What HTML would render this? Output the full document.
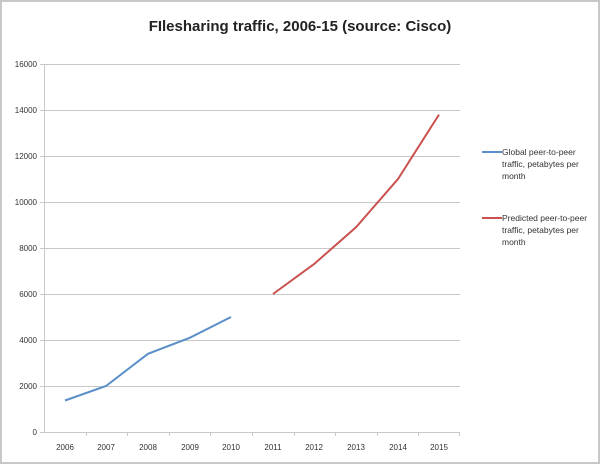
<!DOCTYPE html>
<html><head><style>body{margin:0;background:#fff}</style></head><body>
<svg width="600" height="464" xmlns="http://www.w3.org/2000/svg" font-family="Liberation Sans, sans-serif">
<rect x="1" y="1" width="598" height="462" fill="#fff" stroke="#c8c8c8" stroke-width="2"/>
<text x="300" y="31" text-anchor="middle" font-size="15" font-weight="bold" fill="#222">FIlesharing traffic, 2006-15 (source: Cisco)</text>
<g stroke="#c8c8c8" stroke-width="1">
<line x1="40" y1="64.5" x2="460" y2="64.5"/><line x1="40" y1="110.5" x2="460" y2="110.5"/>
<line x1="40" y1="156.5" x2="460" y2="156.5"/><line x1="40" y1="202.5" x2="460" y2="202.5"/>
<line x1="40" y1="248.5" x2="460" y2="248.5"/><line x1="40" y1="294.5" x2="460" y2="294.5"/>
<line x1="40" y1="340.5" x2="460" y2="340.5"/><line x1="40" y1="386.5" x2="460" y2="386.5"/>
<line x1="40" y1="432.5" x2="460" y2="432.5"/><line x1="44.5" y1="64" x2="44.5" y2="432"/>
<line x1="86.5" y1="432" x2="86.5" y2="436"/><line x1="127.5" y1="432" x2="127.5" y2="436"/>
<line x1="169.5" y1="432" x2="169.5" y2="436"/><line x1="210.5" y1="432" x2="210.5" y2="436"/>
<line x1="252.5" y1="432" x2="252.5" y2="436"/><line x1="294.5" y1="432" x2="294.5" y2="436"/>
<line x1="335.5" y1="432" x2="335.5" y2="436"/><line x1="377.5" y1="432" x2="377.5" y2="436"/>
<line x1="418.5" y1="432" x2="418.5" y2="436"/><line x1="459.5" y1="432" x2="459.5" y2="436"/>
</g>
<g font-size="8" fill="#333" text-anchor="end">
<text x="37" y="67">16000</text><text x="37" y="113">14000</text><text x="37" y="159">12000</text>
<text x="37" y="205">10000</text><text x="37" y="251">8000</text><text x="37" y="297">6000</text>
<text x="37" y="343">4000</text><text x="37" y="389">2000</text><text x="37" y="435">0</text>
</g>
<g font-size="8" fill="#333" text-anchor="middle">
<text x="65" y="450">2006</text><text x="106" y="450">2007</text><text x="148" y="450">2008</text>
<text x="190" y="450">2009</text><text x="231" y="450">2010</text><text x="273" y="450">2011</text>
<text x="314" y="450">2012</text><text x="356" y="450">2013</text><text x="398" y="450">2014</text>
<text x="439" y="450">2015</text>
</g>
<polyline fill="none" stroke="#5b8fc9" stroke-width="2" points="65,400.5 106,386 148,353.8 190,337.7 231,317"/>
<polyline fill="none" stroke="#c9514f" stroke-width="2" points="273,294 314,264.1 356,227.3 398,179 439,114.6"/>
<line x1="482" y1="152" x2="502" y2="152" stroke="#5b8fc9" stroke-width="2"/>
<line x1="482" y1="218" x2="502" y2="218" stroke="#c9514f" stroke-width="2"/>
<g font-size="8.5" fill="#333">
<text x="502" y="155">Global peer-to-peer</text><text x="502" y="167">traffic, petabytes per</text><text x="502" y="179">month</text>
<text x="502" y="221">Predicted peer-to-peer</text><text x="502" y="233">traffic, petabytes per</text><text x="502" y="245">month</text>
</g>
</svg>
</body></html>
